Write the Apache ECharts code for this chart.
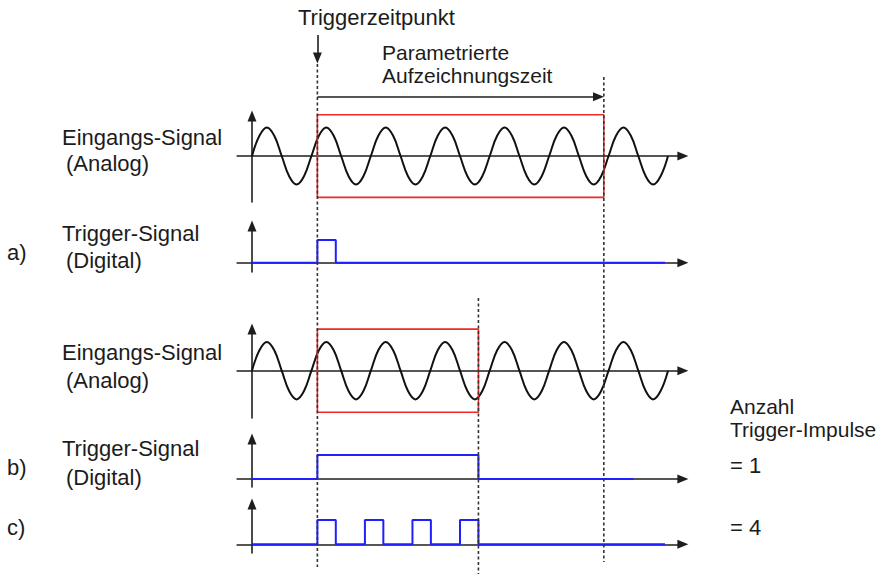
<!DOCTYPE html>
<html><head><meta charset="utf-8">
<script src="https://cdn.jsdelivr.net/npm/echarts@6/dist/echarts.min.js"></script>
<style>html,body{margin:0;padding:0;background:#fff}#c{width:894px;height:574px}</style>
</head><body><div id="c"></div>
<script>
// ---------- data (time in ms, one period of the input signal = 10 ms) ----------
const sineTimes  = [0,1.25,2.5,3.75,5,6.25,7.5,8.75,10,11.25,12.5,13.75,15,16.25,17.5,18.75,
                    20,21.25,22.5,23.75,25,26.25,27.5,28.75,30,31.25,32.5,33.75,35,36.25,37.5,38.75,
                    40,41.25,42.5,43.75,45,46.25,47.5,48.75,50,51.25,52.5,53.75,55,56.25,57.5,58.75,
                    60,61.25,62.5,63.75,65,66.25,67.5,68.75,70];
const sineLevels = [0,0.71,1,0.71,0,-0.71,-1,-0.71, 0,0.71,1,0.71,0,-0.71,-1,-0.71,
                    0,0.71,1,0.71,0,-0.71,-1,-0.71, 0,0.71,1,0.71,0,-0.71,-1,-0.71,
                    0,0.71,1,0.71,0,-0.71,-1,-0.71, 0,0.71,1,0.71,0,-0.71,-1,-0.71,
                    0,0.71,1,0.71,0,-0.71,-1,-0.71, 0];
const triggerTime = 11;          // Triggerzeitpunkt
const recordEndA = 59.2;         // end of parametrised recording time (a)
const recordEndB = 38.1;         // end of recording in b)/c)
const boxLevel = 1.45;           // half height of the recorded window
const pulsesA = [[11, 14.1]];
const pulsesB = [[11, 38.1]];
const pulsesC = [[11, 14.1], [19, 22.1], [27, 30.1], [35, 38.1]];
const digitalEndA = 69.5, digitalEndB = 64.2, digitalEndC = 69.5;

const labelsLeft = ['Eingangs-Signal', '(Analog)', 'Trigger-Signal', '(Digital)'];
const caseLabels = ['a)', 'b)', 'c)'];
const headTexts = ['Triggerzeitpunkt', 'Parametrierte', 'Aufzeichnungszeit'];
const countTexts = ['Anzahl', 'Trigger-Impulse', '= 1', '= 4'];

// ---------- builders ----------
function digital(pulses, end) {
  const d = [[0, 0]];
  pulses.forEach(p => { d.push([p[0], 0], [p[0], 1], [p[1], 1], [p[1], 0]); });
  d.push([end, 0]);
  return d;
}
function box(s, e, h) { return [[s, -h], [s, h], [e, h], [e, -h], [s, -h]]; }
const sineData = sineTimes.map((t, i) => [t, sineLevels[i]]);

// ---------- layout ----------
const X0 = 252, PX = 5.943, XMIN = -2.5, XMAX = 72.5;
const gLeft = X0 + XMIN * PX, gWidth = (XMAX - XMIN) * PX;
const panels = [
  {top: 116, bottom: 202, zero: 156,   unit: 28.5},
  {top: 226, bottom: 272, zero: 262.7, unit: 22.7},
  {top: 329, bottom: 418, zero: 370.7, unit: 28.7},
  {top: 439, bottom: 487, zero: 479,   unit: 24},
  {top: 504, bottom: 553, zero: 544.3, unit: 24.3}
];
const AX = '#1e1e1e';
const grids = [], xAxes = [], yAxes = [];
panels.forEach((p, i) => {
  grids.push({left: gLeft, width: gWidth, top: p.top, height: p.bottom - p.top});
  xAxes.push({type: 'value', gridIndex: i, min: XMIN, max: XMAX,
    axisLine: {onZero: true, symbol: ['none', 'triangle'], symbolSize: [9, 11], lineStyle: {color: AX, width: 1.6}},
    axisTick: {show: false}, axisLabel: {show: false}, splitLine: {show: false}});
  yAxes.push({type: 'value', gridIndex: i, min: -(p.bottom - p.zero) / p.unit, max: (p.zero - p.top) / p.unit,
    axisLine: {show: true, onZero: true, symbol: ['none', 'triangle'], symbolSize: [9, 11], lineStyle: {color: AX, width: 1.6}},
    axisTick: {show: false}, axisLabel: {show: false}, splitLine: {show: false}});
});
// overlay grid for annotations spanning the whole figure
grids.push({left: gLeft, width: gWidth, top: 0, height: 574});
xAxes.push({type: 'value', gridIndex: 5, min: XMIN, max: XMAX, show: false});
yAxes.push({type: 'value', gridIndex: 5, min: 0, max: 574, inverse: true, show: false});

const base = {type: 'line', showSymbol: false, symbol: 'none', silent: true, clip: false, animation: false};
const sineStyle = {color: '#111', width: 2};
const redStyle = {color: '#f02828', width: 1.6};
const blueStyle = {color: '#1f1fff', width: 2};
const dashStyle = {color: '#333', width: 1.6, type: [3, 2.5]};

const series = [
  Object.assign({}, base, {xAxisIndex: 0, yAxisIndex: 0, data: sineData, smooth: 0.4, lineStyle: sineStyle, z: 3}),
  Object.assign({}, base, {xAxisIndex: 0, yAxisIndex: 0, data: box(triggerTime, recordEndA, boxLevel), lineStyle: redStyle, z: 4}),
  Object.assign({}, base, {xAxisIndex: 1, yAxisIndex: 1, data: digital(pulsesA, digitalEndA), lineStyle: blueStyle, z: 3}),
  Object.assign({}, base, {xAxisIndex: 2, yAxisIndex: 2, data: sineData, smooth: 0.4, lineStyle: sineStyle, z: 3}),
  Object.assign({}, base, {xAxisIndex: 2, yAxisIndex: 2, data: box(triggerTime, recordEndB, boxLevel), lineStyle: redStyle, z: 4}),
  Object.assign({}, base, {xAxisIndex: 3, yAxisIndex: 3, data: digital(pulsesB, digitalEndB), lineStyle: blueStyle, z: 3}),
  Object.assign({}, base, {xAxisIndex: 4, yAxisIndex: 4, data: digital(pulsesC, digitalEndC), lineStyle: blueStyle, z: 3}),
  // dashed time markers
  Object.assign({}, base, {xAxisIndex: 5, yAxisIndex: 5, data: [[triggerTime, 64], [triggerTime, 567]], lineStyle: dashStyle, z: 5}),
  Object.assign({}, base, {xAxisIndex: 5, yAxisIndex: 5, data: [[recordEndA, 77], [recordEndA, 562]], lineStyle: dashStyle, z: 5}),
  Object.assign({}, base, {xAxisIndex: 5, yAxisIndex: 5, data: [[recordEndB, 298], [recordEndB, 574]], lineStyle: dashStyle, z: 5}),
  // arrows
  Object.assign({}, base, {xAxisIndex: 5, yAxisIndex: 5, data: [],
    markLine: {silent: true, animation: false, symbol: ['none', 'triangle'], symbolSize: [9, 11],
      label: {show: false}, lineStyle: {color: AX, width: 1.6, type: 'solid'},
      data: [
        [{coord: [triggerTime, 35]}, {coord: [triggerTime, 58]}],
        [{coord: [triggerTime, 96.7]}, {coord: [recordEndA - 0.9, 96.7]}]
      ]}})
];

const F = '22px "Liberation Sans", Arial, sans-serif';
const F2 = '21px "Liberation Sans", Arial, sans-serif';
const TC = '#1c1c1c';
function txt(s, x, y, f) { return {type: 'text', x: x, y: y, silent: true, style: {text: s, font: f || F, fill: TC, align: 'left', verticalAlign: 'middle', lineHeight: 19}}; }
const graphic = [
  txt(headTexts[0], 298, 17), txt(headTexts[1], 382, 52.5, F2), txt(headTexts[2], 382, 75.5, F2),
  txt(labelsLeft[0], 62, 137), txt(labelsLeft[1], 66, 163),
  txt(labelsLeft[2], 62, 233), txt(labelsLeft[3], 66, 260),
  txt(labelsLeft[0], 62, 352), txt(labelsLeft[1], 66, 380),
  txt(labelsLeft[2], 62, 448), txt(labelsLeft[3], 66, 477),
  txt(caseLabels[0], 7, 252), txt(caseLabels[1], 7, 467), txt(caseLabels[2], 7, 527),
  txt(countTexts[0], 730, 406.5, F2), txt(countTexts[1], 730, 429.5, F2),
  txt(countTexts[2], 730, 465), txt(countTexts[3], 730, 527)
];

const chart = echarts.init(document.getElementById('c'), null, {renderer: 'svg'});
chart.setOption({animation: false, backgroundColor: '#fff', grid: grids, xAxis: xAxes, yAxis: yAxes, series: series, graphic: graphic});
</script></body></html>
